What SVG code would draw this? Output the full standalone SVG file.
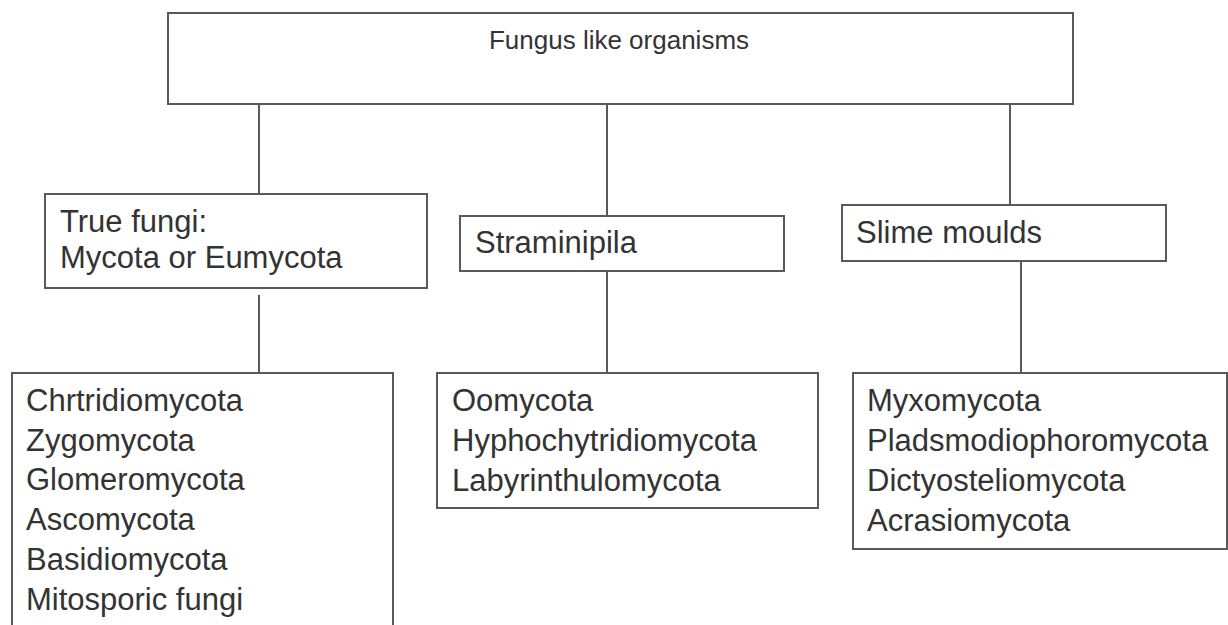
<svg xmlns="http://www.w3.org/2000/svg" width="1228" height="625" viewBox="0 0 1228 625">
<style>
.box{fill:#fff;stroke:#595959;stroke-width:2}
.ln{stroke:#595959;stroke-width:2;fill:none}
text{font-family:"Liberation Sans",Arial,sans-serif;fill:#333;font-size:31px}
.title{font-size:26px}
</style>
<rect width="1228" height="625" fill="#fff"/>
<g id="connectors">
<line class="ln" x1="259" y1="104" x2="259" y2="194"/>
<line class="ln" x1="607" y1="104" x2="607" y2="216"/>
<line class="ln" x1="1010" y1="104" x2="1010" y2="205"/>
<line class="ln" x1="259" y1="295" x2="259" y2="373"/>
<line class="ln" x1="607" y1="271" x2="607" y2="373"/>
<line class="ln" x1="1021" y1="261" x2="1021" y2="373"/>
</g>
<g id="root">
<rect class="box" x="168" y="13" width="905" height="91"/>
<text class="title" x="619" y="49" text-anchor="middle">Fungus like organisms</text>
</g>
<g id="true-fungi">
<rect class="box" x="45" y="194" width="382" height="94"/>
<text x="60" y="232">True fungi:</text>
<text x="60" y="268">Mycota or Eumycota</text>
</g>
<g id="straminipila">
<rect class="box" x="460" y="216" width="324" height="55"/>
<text x="475" y="253">Straminipila</text>
</g>
<g id="slime-moulds">
<rect class="box" x="842" y="205" width="324" height="56"/>
<text x="856" y="243">Slime moulds</text>
</g>
<g id="true-fungi-list">
<rect class="box" x="12" y="373" width="381" height="270"/>
<text x="26" y="411">Chrtridiomycota</text>
<text x="26" y="451">Zygomycota</text>
<text x="26" y="490">Glomeromycota</text>
<text x="26" y="530">Ascomycota</text>
<text x="26" y="570">Basidiomycota</text>
<text x="26" y="610">Mitosporic fungi</text>
</g>
<g id="straminipila-list">
<rect class="box" x="437" y="373" width="381" height="135"/>
<text x="452" y="411">Oomycota</text>
<text x="452" y="451">Hyphochytridiomycota</text>
<text x="452" y="491">Labyrinthulomycota</text>
</g>
<g id="slime-moulds-list">
<rect class="box" x="853" y="373" width="374" height="176"/>
<text x="867" y="411">Myxomycota</text>
<text x="867" y="451">Pladsmodiophoromycota</text>
<text x="867" y="491">Dictyosteliomycota</text>
<text x="867" y="531">Acrasiomycota</text>
</g>
</svg>
